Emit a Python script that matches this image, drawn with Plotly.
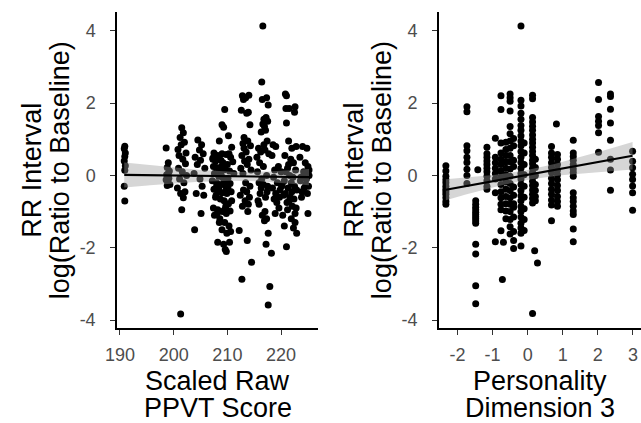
import numpy as np
import plotly.graph_objects as go

# ---------------- data ----------------
# Left panel: Scaled Raw PPVT Score vs RR interval log ratio
ppvt_x = [
    190.9, 190.8, 191.0, 190.9, 190.8, 191.0, 190.9, 190.8, 190.9,
    198.6, 199.0, 198.8, 199.2, 198.7, 199.1, 198.9, 199.3, 198.8, 199.0, 198.6,
    201.5, 201.8, 201.2, 202.0, 201.4, 200.8, 202.3, 201.0, 201.7, 202.2, 200.9, 201.6, 202.4, 201.1, 201.9, 200.7, 202.1, 201.3, 201.8, 201.5, 201.3,
    204.5, 205.2, 204.8, 205.5, 204.0, 205.0, 204.4, 205.8, 203.8, 204.9, 205.3, 204.2, 205.6, 205.1, 203.9,
    209.5, 209.0, 209.3, 210.2, 208.5, 210.8, 207.5, 208.2, 207.3, 209.8, 210.6, 207.8, 208.8, 209.2, 210.0, 211.0,
    207.4, 208.0, 208.6, 209.6, 210.4, 211.2, 207.6, 208.4, 209.1, 210.1, 207.2, 208.0, 208.9, 209.7, 210.5,
    207.5, 208.3, 209.0, 209.9, 210.7, 207.8, 208.7, 209.4, 210.2, 207.4, 208.2, 209.1, 209.8, 210.5, 207.6,
    208.6, 209.5, 210.3, 209.0, 209.9, 210.6, 208.2, 209.3, 210.4, 209.6, 209.8,
    207.9, 208.4, 209.2, 209.7, 210.3, 208.1, 208.9, 209.5, 210.1, 207.7, 208.5, 209.3, 210.0, 208.8, 209.4,
    210.8, 207.3, 208.0, 209.0, 209.6,
    212.8, 213.4, 213.0, 214.0, 212.6, 213.6, 213.9, 214.2, 213.1, 213.8, 212.9, 214.3, 213.5, 212.7, 214.0,
    213.2, 213.7, 212.5, 214.4, 213.0, 213.6, 212.4, 214.1, 213.3, 213.9, 212.8, 212.2, 213.7, 214.5, 212.7,
    213.4, 212.9, 214.2, 213.1, 213.8,
    216.6, 216.4, 217.3, 216.5, 217.6, 217.2, 216.8, 217.5, 216.6, 216.9, 217.1, 216.3, 217.4, 216.8, 215.8,
    217.0, 216.2, 215.5, 217.7, 216.0, 216.7, 215.6, 217.3, 216.4, 215.9, 217.5, 216.1, 215.7, 217.0, 216.5,
    217.3, 216.9, 217.6, 217.2, 218.2, 217.9, 217.6,
    216.3, 217.1, 215.9, 216.7, 217.4,
    218.5, 219.0, 218.3, 219.5, 218.8, 220.0, 218.6, 219.3, 220.2, 218.4, 219.8, 219.0, 220.5, 218.7, 219.6,
    220.3, 221.0, 220.6, 219.2, 218.9, 220.1, 219.7,
    220.8, 221.0, 220.9, 221.5, 222.6, 222.5, 221.0, 221.4, 222.0, 222.8, 220.7, 221.8, 222.3, 221.2, 222.7,
    220.9, 221.6, 222.2, 220.6, 221.9, 222.5, 221.3, 222.9, 220.8, 221.7, 222.4, 221.1, 222.1, 222.8, 221.5,
    222.6, 222.3, 222.9, 221.9, 221.2, 222.0, 222.6, 221.4,
    224.8, 224.0, 224.5, 225.0, 223.5, 224.2, 225.2, 224.7, 223.6, 225.1, 224.3, 224.9, 223.8, 225.0, 224.4,
    223.9, 224.6, 225.2, 223.7,
]
rr_left = [
    0.81, 0.74, 0.62, 0.52, 0.40, 0.27, 0.14, -0.30, -0.71,
    0.76, 0.35, 0.22, 0.12, 0.02, -0.08, -0.18, -0.25, -0.28, 0.05, -0.12,
    1.32, 1.18, 1.05, 0.92, 0.85, 0.72, 0.62, 0.55, 0.45, 0.32, 0.20, 0.10, 0.00, -0.10, -0.20, -0.35, -0.45, -0.50, -0.62, -0.95, -3.83,
    0.98, 0.85, 0.70, 0.60, 0.50, 0.42, 0.30, 0.20, 0.05, -0.10, -0.30, -0.50, -0.55, -1.05, -1.50,
    1.82, 1.40, 1.33, 1.10, 0.95, 0.78, 0.62, 0.55, 0.48, 0.58, 0.50, 0.40, 0.42, 0.35, 0.30, 0.38,
    0.25, 0.22, 0.15, 0.18, 0.12, 0.05, 0.05, -0.02, -0.05, -0.08, -0.15, -0.20, -0.25, -0.30, -0.22,
    -0.38, -0.42, -0.48, -0.50, -0.45, -0.60, -0.65, -0.70, -0.78, -0.90, -0.95, -1.00, -1.05, -0.98, -1.10,
    -1.20, -1.30, -1.40, -1.50, -1.60, -1.55, -1.85, -1.90, -1.85, -2.05, -2.10,
    -0.55, -0.35, 0.32, -0.85, 0.60, -1.05, 0.25, -0.95, -0.35, 0.45, -1.30, 0.15, -0.25, 0.10, -0.15,
    -0.70, 0.45, -0.30, 0.60, -0.45,
    2.20, 2.15, 2.10, 2.22, 1.80, 1.72, 1.75, 1.40, 1.05, 0.95, 0.88, 0.82, 0.65, 0.55, 0.45,
    0.40, 0.30, 0.20, 0.15, -0.40, -0.45, -0.55, -0.60, -0.70, -0.80, -0.85, -1.52, -1.80, -2.40, -2.87,
    -0.20, 0.05, -0.30, 0.75, -1.00,
    4.13, 2.58, 2.15, 2.10, 1.95, 1.60, 1.55, 1.50, 1.42, 1.35, 1.25, 1.20, 0.95, 0.85, 0.75,
    0.70, 0.65, 0.50, 0.60, 0.35, 0.25, 0.10, 0.00, -0.10, -0.20, -0.30, -0.50, -0.70, -1.00, -1.10,
    -1.20, -1.25, -1.60, -1.90, -2.15, -3.07, -3.58,
    -0.35, -0.60, -0.80, -0.25, -0.45,
    0.85, 0.80, 0.55, 0.25, 0.15, 0.10, -0.05, -0.20, -0.25, -0.35, -0.40, -0.50, -0.55, -0.65, -0.90,
    -1.10, -1.97, -1.40, -0.75, -1.05, -0.30, -0.60,
    2.25, 2.20, 1.85, 1.85, 1.90, 1.75, 1.45, 0.95, 0.75, 0.80, 0.55, 0.45, 0.35, 0.20, 0.15,
    0.10, 0.00, -0.05, -0.15, -0.20, -0.30, -0.35, -0.40, -0.50, -0.60, -0.65, -0.75, -0.85, -0.90, -0.70,
    -1.30, -1.45, -1.60, -1.20, -0.95, -0.45, -1.05, 0.30,
    0.75, 0.80, 0.35, 0.25, 0.50, 0.10, 0.00, -0.10, -0.15, -0.30, -0.35, -0.50, -0.60, -1.05, 0.05,
    -0.45, -0.25, 0.15, -0.05,
]

# Right panel: Personality Dimension 3 vs RR interval log ratio
pers_x = (
    [-2.33] * 12 + [-1.73] * 9 + [-1.48] * 14 + [-1.42] + [-1.16] * 11 + [-0.92] * 8
    + [-0.76] * 14 + [-0.72, -0.69] + [-0.62] * 12 + [-0.50] * 20 + [-0.40] * 12
    + [-0.19] * 27 + [-0.10] * 9 + [0.14] * 24 + [0.22] * 7 + [0.20, 0.28]
    + [0.68] * 13 + [0.82] + [0.85] * 11 + [1.30] * 16 + [2.02] * 7 + [2.36] * 8 + [2.99] * 8
)
rr_right = [
    0.27, 0.12, -0.02, -0.12, -0.20, -0.30, -0.38, -0.45, -0.52, -0.62, -0.72, -0.80,
    1.90, 1.76, 0.82, 0.68, 0.50, 0.36, 0.17, 0.00, -0.22,
    -0.70, -0.80, -0.88, -0.95, -1.02, -1.08, -1.14, -1.20, -1.26, -1.32, -1.90, -2.17, -3.05, -3.55,
    0.16,
    0.78, 0.60, 0.50, 0.40, 0.30, 0.20, 0.10, -0.02, -0.15, -0.30, -0.38,
    1.03, 0.50, 0.35, 0.20, 0.05, -0.10, -0.48, -1.83,
    2.20, 1.82, 0.90, 0.62, 0.45, 0.30, 0.12, -0.05, -0.25, -0.45, -0.62, -0.80, -0.95, -1.53,
    -2.88, -1.85,
    0.92, 0.72, 0.55, 0.38, 0.20, 0.02, -0.18, -0.38, -0.58, -0.78, -0.98, -1.20,
    2.25, 2.15, 2.05, 1.78, 1.35, 1.15, 0.95, 0.75, 0.55, 0.38, 0.18, -0.02, -0.22, -0.42, -0.62,
    -0.80, -1.00, -1.22, -1.42, -1.62,
    1.02, 0.82, 0.42, 0.25, -0.32, -0.55, -0.78, -0.88, -1.15, -1.55, -1.80, -2.02,
    4.13, 2.08, 1.92, 1.72, 1.55, 1.38, 1.25, 1.10, 0.95, 0.82, 0.66, 0.50, 0.36, 0.20, 0.05,
    -0.10, -0.25, -0.42, -0.56, -0.70, -0.86, -1.00, -1.15, -1.32, -1.45, -1.60, -1.95,
    0.90, 0.62, 0.30, 0.02, -0.30, -0.60, -0.92, -1.22, -1.52,
    2.22, 2.12, 1.60, 1.48, 1.36, 1.25, 1.12, 1.00, 0.90, 0.78, 0.66, 0.55, 0.42, 0.32, 0.20,
    0.08, -0.04, -0.16, -0.28, -0.40, -0.52, -0.64, -0.76, -3.82,
    0.45, 0.22, 0.00, -0.25, -0.42, -0.58, -0.70,
    -2.08, -2.42,
    0.80, 0.62, 0.50, 0.35, 0.22, 0.08, -0.08, -0.22, -0.38, -0.52, -0.68, -0.82, -1.25,
    1.42,
    0.58, 0.45, 0.30, 0.15, 0.02, -0.12, -0.28, -0.42, -0.58, -0.72, -0.85,
    0.97, 0.62, 0.52, 0.42, 0.30, 0.18, 0.08, -0.02, -0.48, -0.62, -0.72, -0.85, -0.98, -1.08, -1.48, -1.83,
    2.57, 2.10, 1.63, 1.50, 1.38, 1.18, 0.64,
    2.25, 2.18, 1.83, 1.45, 0.97, 0.45, 0.15, -0.41,
    0.67, 0.39, 0.21, 0.03, -0.11, -0.29, -0.48, -0.96,
]

y_ticks = [-4, -2, 0, 2, 4]
y_tick_text = ["-4", "-2", "0", "2", "4"]
ppvt_ticks = [190, 200, 210, 220]
ppvt_tick_text = ["190", "200", "210", "220"]
pers_ticks = [-2, -1, 0, 1, 2, 3]
pers_tick_text = ["-2", "-1", "0", "1", "2", "3"]

y_title_lines = ["RR Interval", "log(Ratio to Baseline)"]
x_title_lines = [["Scaled Raw", "PPVT Score"], ["Personality", "Dimension 3"]]


def lm_band(x, y, n_grid=80):
    x = np.asarray(x, float)
    y = np.asarray(y, float)
    n = len(x)
    b1, b0 = np.polyfit(x, y, 1)
    resid = y - (b0 + b1 * x)
    s = np.sqrt(np.sum(resid ** 2) / (n - 2))
    xm = x.mean()
    sxx = np.sum((x - xm) ** 2)
    g = np.linspace(x.min(), x.max(), n_grid)
    fit = b0 + b1 * g
    se = s * np.sqrt(1.0 / n + (g - xm) ** 2 / sxx)
    t = 1.968
    return g, fit, fit - t * se, fit + t * se


fig = go.Figure()

panels = [
    (ppvt_x, rr_left, "x", "y"),
    (pers_x, rr_right, "x2", "y2"),
]
for xs, ys, xa, ya in panels:
    g, fit, lo, hi = lm_band(xs, ys)
    fig.add_trace(go.Scatter(
        x=xs, y=ys, mode="markers", xaxis=xa, yaxis=ya,
        marker=dict(color="black", size=7, line=dict(width=0)),
        showlegend=False, hoverinfo="skip",
    ))
    fig.add_trace(go.Scatter(
        x=np.concatenate([g, g[::-1]]), y=np.concatenate([hi, lo[::-1]]),
        mode="lines", fill="toself", fillcolor="rgba(153,153,153,0.4)",
        line=dict(width=0), xaxis=xa, yaxis=ya, showlegend=False, hoverinfo="skip",
    ))
    fig.add_trace(go.Scatter(
        x=g, y=fit, mode="lines", line=dict(color="black", width=2.2),
        xaxis=xa, yaxis=ya, showlegend=False, hoverinfo="skip",
    ))

W, H = 641, 423
y_dom = [(H - 330) / H, (H - 12) / H]
FONT = "Liberation Sans, Arial, sans-serif"

axis_common = dict(
    showline=True, linecolor="black", linewidth=1.5, mirror=False,
    ticks="outside", ticklen=5, tickwidth=1.2, tickcolor="#333333",
    showgrid=False, zeroline=False,
    tickfont=dict(family=FONT, size=18, color="#4D4D4D"),
)

fig.update_layout(
    width=W, height=H,
    margin=dict(l=0, r=0, t=0, b=0),
    paper_bgcolor="white", plot_bgcolor="white",
    xaxis=dict(domain=[107 / W, 312 / W], range=[189.45, 226.9],
               tickvals=ppvt_ticks, ticktext=ppvt_tick_text,
               ticklabelstandoff=4, anchor="y", **axis_common),
    yaxis=dict(domain=y_dom, range=[-4.23, 4.52],
               tickvals=y_ticks, ticktext=y_tick_text,
               ticklabelstandoff=11, anchor="x", **axis_common),
    xaxis2=dict(domain=[435 / W, 1.0], range=[-2.53, 3.23],
                tickvals=pers_ticks, ticktext=pers_tick_text,
                ticklabelstandoff=4, anchor="y2", **axis_common),
    yaxis2=dict(domain=y_dom, range=[-4.23, 4.52],
                tickvals=y_ticks, ticktext=y_tick_text,
                ticklabelstandoff=11, anchor="x2", **axis_common),
)

# axis titles (two lines each, ggplot-like tight line spacing)
title_font = dict(family=FONT, size=27, color="black")
ann = []
for cx_pix, (l1, l2) in zip([(107 + 312) / 2, (435 + 641) / 2], x_title_lines):
    ann.append(dict(text=l1, x=cx_pix / W, y=(H - 383) / H, xref="paper", yref="paper",
                    xanchor="center", yanchor="middle", showarrow=False, font=title_font))
    ann.append(dict(text=l2, x=cx_pix / W, y=(H - 410) / H, xref="paper", yref="paper",
                    xanchor="center", yanchor="middle", showarrow=False, font=title_font))
for px_off in [0, 328]:
    for line, xpix in zip(y_title_lines, [21, 49]):
        ann.append(dict(text=line, x=(xpix + px_off) / W, y=(H - 171) / H,
                        xref="paper", yref="paper", xanchor="center", yanchor="middle",
                        textangle=-90, showarrow=False, font=title_font))
fig.update_layout(annotations=ann)

fig.write_html("out.html")
